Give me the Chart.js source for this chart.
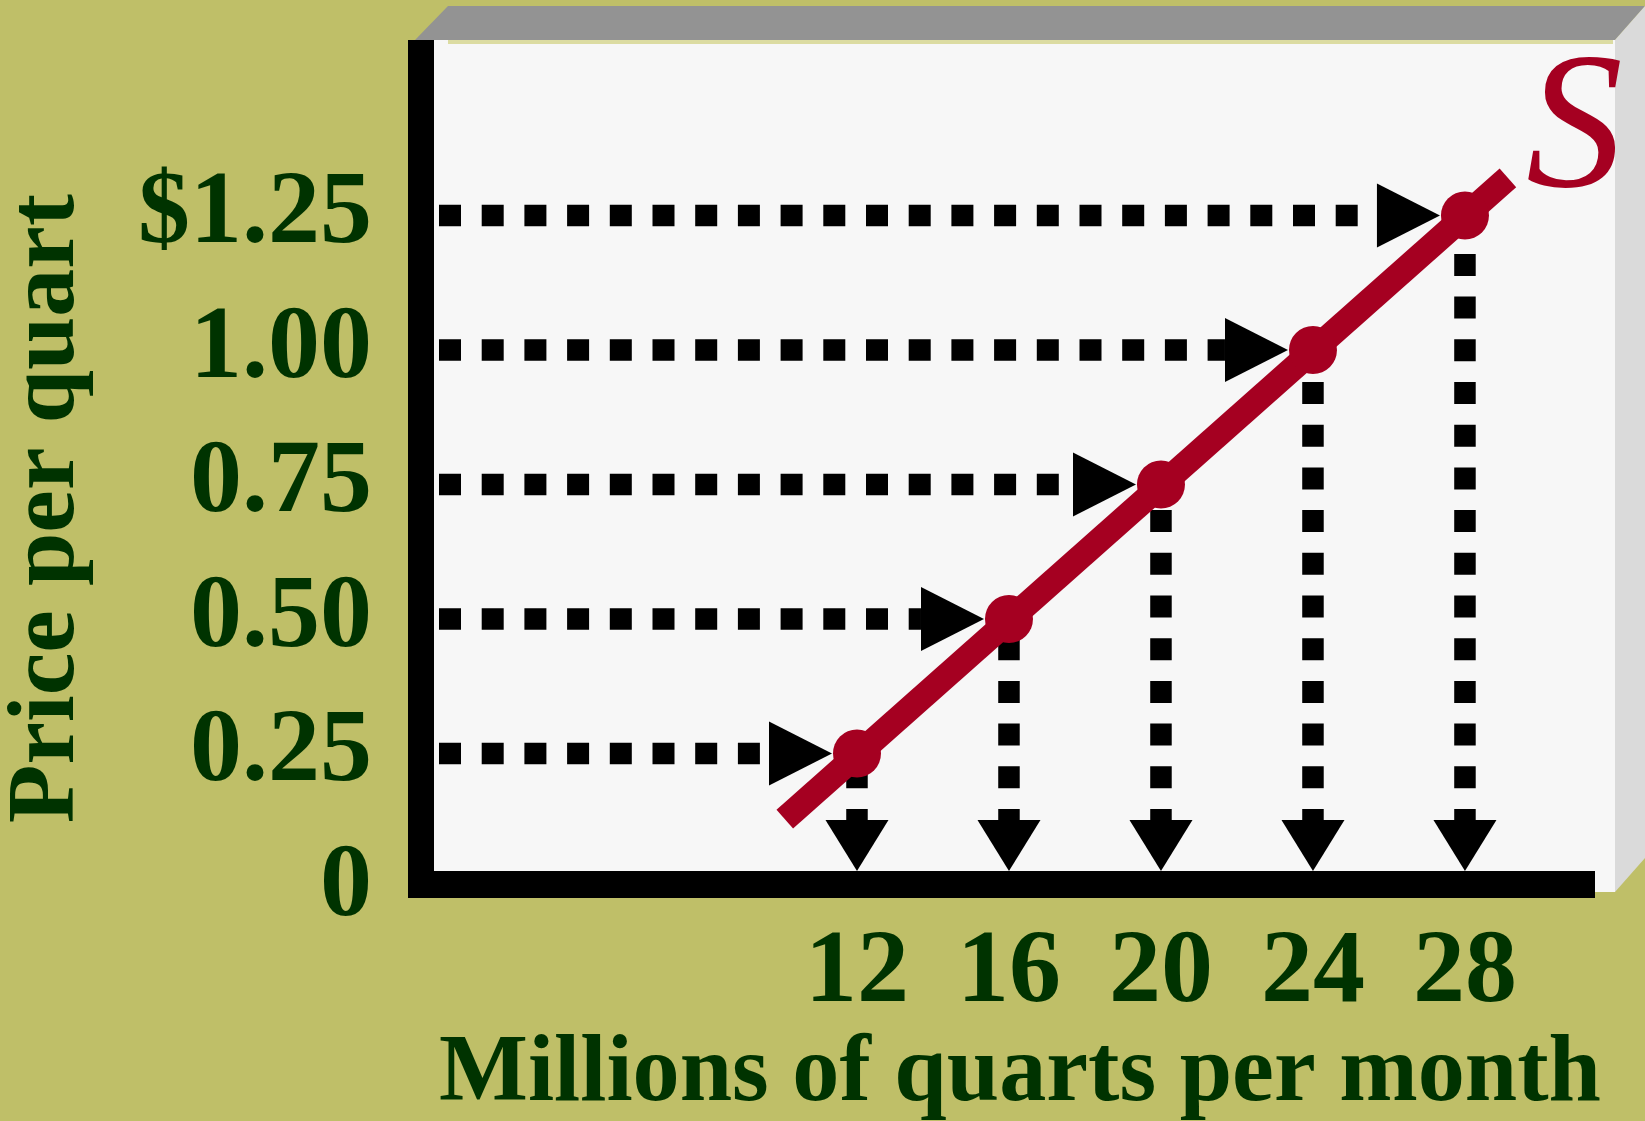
<!DOCTYPE html>
<html>
<head>
<meta charset="utf-8">
<script src="https://cdn.jsdelivr.net/npm/chart.js@4.4.1/dist/chart.umd.min.js"></script>
<style>
  html, body { margin: 0; padding: 0; background: #BFBF68; }
  canvas { display: block; }
</style>
</head>
<body>
<canvas id="c" width="1645" height="1121"></canvas>
<script>
// ---- data ----
const quantities = [12, 16, 20, 24, 28];            // millions of quarts per month
const prices = [0.25, 0.50, 0.75, 1.00, 1.25];      // price per quart
const supplyQty = [10.1, 29.13];                    // supply line ends
const supplyPrice = [0.128, 1.32];
const xTickValues = [12, 16, 20, 24, 28];
const xTickLabels = ['12', '16', '20', '24', '28'];
const yTickValues = [0, 0.25, 0.50, 0.75, 1.00, 1.25];
const yTickLabels = ['0', '0.25', '0.50', '0.75', '1.00', '$1.25'];
const curveLabel = 'S';
const xTitle = 'Millions of quarts per month';
const yTitle = 'Price per quart';

const GREEN = '#003300';
const RED = '#A50021';
const SERIF = '"Liberation Serif", "Times New Roman", serif';

const boxPlugin = {
  id: 'box',
  beforeDraw(chart) {
    const ctx = chart.ctx;
    const ca = chart.chartArea;
    ctx.save();
    ctx.fillStyle = '#BFBF68';
    ctx.fillRect(0, 0, chart.width, chart.height);
    const pl = ca.left - 31, pr = 1615, pt = 40, pb = 892;
    ctx.fillStyle = '#939393';
    ctx.beginPath();
    ctx.moveTo(pl + 40, 6); ctx.lineTo(1645, 6); ctx.lineTo(pr, pt); ctx.lineTo(pl + 7, pt);
    ctx.closePath(); ctx.fill();
    ctx.fillStyle = '#DADADA';
    ctx.beginPath();
    ctx.moveTo(pr, pt); ctx.lineTo(1645, 6); ctx.lineTo(1645, 858); ctx.lineTo(pr, pb);
    ctx.closePath(); ctx.fill();
    ctx.fillStyle = '#F7F7F7';
    ctx.fillRect(pl, pt, pr - pl, pb - pt);
    ctx.fillStyle = '#DCDCA2';
    ctx.fillRect(pl + 40, pt, pr - pl - 42, 4);
    ctx.restore();
  }
};

const guidesPlugin = {
  id: 'guides',
  beforeDatasetsDraw(chart) {
    const ctx = chart.ctx;
    const xs = chart.scales.x, ys = chart.scales.y;
    const ca = chart.chartArea;
    const axisTop = ca.bottom - 17;
    ctx.save();
    ctx.strokeStyle = '#000';
    ctx.fillStyle = '#000';
    ctx.lineCap = 'butt';
    ctx.lineWidth = 21.5;
    ctx.setLineDash([22, 20.7]);
    for (let i = 0; i < quantities.length; i++) {
      const px = xs.getPixelForValue(quantities[i]);
      const py = ys.getPixelForValue(prices[i]);
      const tip = px - 25, base = tip - 63;
      ctx.beginPath();
      ctx.moveTo(ca.left, py); ctx.lineTo(base, py);
      ctx.stroke();
      const dBase = axisTop - 51;
      ctx.beginPath();
      ctx.moveTo(px, dBase + 11); ctx.lineTo(px, py);
      ctx.stroke();
      ctx.save();
      ctx.setLineDash([]);
      ctx.beginPath();
      ctx.moveTo(base, py - 32); ctx.lineTo(tip, py); ctx.lineTo(base, py + 32);
      ctx.closePath(); ctx.fill();
      ctx.beginPath();
      ctx.moveTo(px - 31.5, dBase); ctx.lineTo(px + 31.5, dBase); ctx.lineTo(px, axisTop);
      ctx.closePath(); ctx.fill();
      ctx.restore();
    }
    ctx.setLineDash([]);
    ctx.fillRect(ca.left - 31, 40, 26, ca.bottom + 10 - 40);
    ctx.fillRect(ca.left - 31, ca.bottom - 17, 1595 - (ca.left - 31), 27);
    ctx.restore();
  },
  afterDatasetsDraw(chart) {
    const ctx = chart.ctx;
    const xs = chart.scales.x, ys = chart.scales.y;
    const n = supplyQty.length - 1;
    ctx.save();
    ctx.fillStyle = RED;
    ctx.font = 'italic 194px ' + SERIF;
    ctx.textAlign = 'left';
    ctx.textBaseline = 'alphabetic';
    ctx.fillText(curveLabel, xs.getPixelForValue(supplyQty[n]) + 18, ys.getPixelForValue(supplyPrice[n]) + 8);
    ctx.restore();
  }
};

new Chart(document.getElementById('c'), {
  type: 'scatter',
  data: {
    datasets: [
      {
        label: 'points',
        data: quantities.map((q, i) => ({ x: q, y: prices[i] })),
        pointRadius: 24,
        pointHoverRadius: 24,
        pointBackgroundColor: RED,
        pointBorderWidth: 0,
        showLine: false
      },
      {
        label: curveLabel,
        data: supplyQty.map((q, i) => ({ x: q, y: supplyPrice[i] })),
        showLine: true,
        borderColor: RED,
        borderWidth: 25,
        borderCapStyle: 'butt',
        pointRadius: 0,
        pointHoverRadius: 0
      }
    ]
  },
  options: {
    responsive: false,
    animation: false,
    events: [],
    clip: false,
    layout: { padding: { top: 110, left: 0, right: 44, bottom: 0 } },
    plugins: { legend: { display: false }, tooltip: { enabled: false } },
    scales: {
      x: {
        type: 'linear',
        min: 1,
        max: 31.58,
        afterFit(s) { s.height = 233; },
        afterBuildTicks(s) { s.ticks = xTickValues.map(v => ({ value: v })); },
        grid: { display: false, drawTicks: false },
        border: { display: false },
        ticks: {
          padding: 24,
          color: GREEN,
          font: { family: SERIF, size: 104, weight: 'bold' },
          callback: (v) => xTickLabels[xTickValues.indexOf(v)]
        },
        title: {
          display: true,
          text: xTitle,
          color: GREEN,
          font: { family: SERIF, size: 96, weight: 'bold' },
          padding: { top: 0, bottom: -12 }
        }
      },
      y: {
        type: 'linear',
        min: 0,
        max: 1.41,
        afterFit(s) { s.width = 439; },
        afterBuildTicks(s) { s.ticks = yTickValues.map(v => ({ value: v })); },
        grid: { display: false, drawTicks: false },
        border: { display: false },
        ticks: {
          padding: 67,
          color: GREEN,
          font: { family: SERIF, size: 104, weight: 'bold' },
          callback: (v) => yTickLabels[yTickValues.indexOf(v)]
        },
        title: {
          display: true,
          text: yTitle,
          color: GREEN,
          font: { family: SERIF, size: 96, weight: 'bold' },
          padding: { top: -9, bottom: 0 }
        }
      }
    }
  },
  plugins: [boxPlugin, guidesPlugin]
});
</script>
</body>
</html>
